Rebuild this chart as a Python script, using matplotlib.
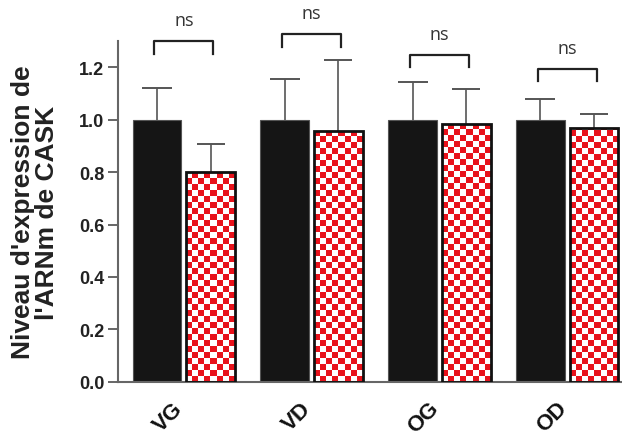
import numpy as np
import matplotlib
matplotlib.use("Agg")
import matplotlib.pyplot as plt
from matplotlib.colors import ListedColormap

groups = ["VG", "VD", "OG", "OD"]
ctrl_mean = [1.0, 1.0, 1.0, 1.0]
ctrl_err = [0.12, 0.157, 0.143, 0.081]
test_mean = [0.80, 0.956, 0.982, 0.969]
test_err = [0.109, 0.272, 0.136, 0.053]
# bracket height (top) and label for each comparison
bracket_top = [1.30, 1.327, 1.248, 1.194]
bracket_txt = ["ns", "ns", "ns", "ns"]

plt.rcParams["font.family"] = ["Liberation Sans", "DejaVu Sans"]

fig = plt.figure(figsize=(6.22, 4.39), dpi=100)
ax = fig.add_axes([0.19, 0.128, 0.81, 0.776])

x = np.arange(len(groups))
w = 0.38
off = 0.21
red = "#e8121b"


def upper_err(xs, ys, err, cap):
    # only the upper half of the error bar, no cap at the bar top
    _, caps, _ = ax.errorbar(xs, ys, yerr=[np.zeros(len(err)), err], fmt="none",
                             ecolor="#555555", elinewidth=1.2, capsize=cap,
                             capthick=1.4, zorder=1)
    caps[0].set_visible(False)


ax.bar(x - off, ctrl_mean, w, color="#151515", edgecolor="#555555",
       linewidth=0.8, zorder=2)
upper_err(x - off, ctrl_mean, ctrl_err, 11)

# checkered bars: white base, clipped checker image, black outline
bars = ax.bar(x + off, test_mean, w, color="white", edgecolor="none", zorder=2)
cmap = ListedColormap(["white", red])
sq_w, sq_h = 0.047, 0.0229
for b in bars:
    x0, h = b.get_x(), b.get_height()
    nx = int(round(b.get_width() / sq_w))
    ny = int(np.ceil(h / sq_h))
    ii, jj = np.indices((ny, nx))
    board = (ii + jj) % 2
    im = ax.imshow(board, cmap=cmap, extent=(x0, x0 + b.get_width(), 0, ny * sq_h),
                   origin="lower", aspect="auto", interpolation="nearest", zorder=2)
    im.set_clip_path(b)
ax.bar(x + off, test_mean, w, fill=False, edgecolor="#111111", linewidth=2.0, zorder=3)
upper_err(x + off, test_mean, test_err, 10)

# significance brackets
for xi, top, txt in zip(x, bracket_top, bracket_txt):
    ax.plot([xi - 0.23, xi - 0.23, xi + 0.23, xi + 0.23],
            [top - 0.048, top, top, top - 0.048],
            color="#222222", lw=1.6, clip_on=False)
    ax.text(xi, top + 0.045, txt, ha="center", va="bottom", fontsize=13,
            color="#333333", family=["Open Sans", "DejaVu Sans"])

ax.set_xlim(-0.513, 3.428)
ax.set_ylim(0, 1.3)
ax.set_yticks([0.0, 0.2, 0.4, 0.6, 0.8, 1.0, 1.2])
ax.set_yticklabels(["0.0", "0.2", "0.4", "0.6", "0.8", "1.0", "1.2"],
                   fontsize=13, fontweight="bold", color="#222222")
ax.set_xticks(x)
ax.set_xticklabels(groups, fontsize=16, fontweight="bold", rotation=45,
                   ha="right", va="baseline", rotation_mode="anchor", color="#111111")
ax.tick_params(axis="x", length=0, pad=19.5)
ax.tick_params(axis="y", length=7, width=1.4, color="#666666", pad=3)

for s in ["top", "right"]:
    ax.spines[s].set_visible(False)
for s in ["left", "bottom"]:
    ax.spines[s].set_color("#666666")
    ax.spines[s].set_linewidth(1.5)

ax.set_ylabel("Niveau d'expression de\nl'ARNm de CASK", fontsize=19,
              fontweight="bold", linespacing=1.0, labelpad=14, color="#222222")

fig.savefig("out.png", dpi=100)
